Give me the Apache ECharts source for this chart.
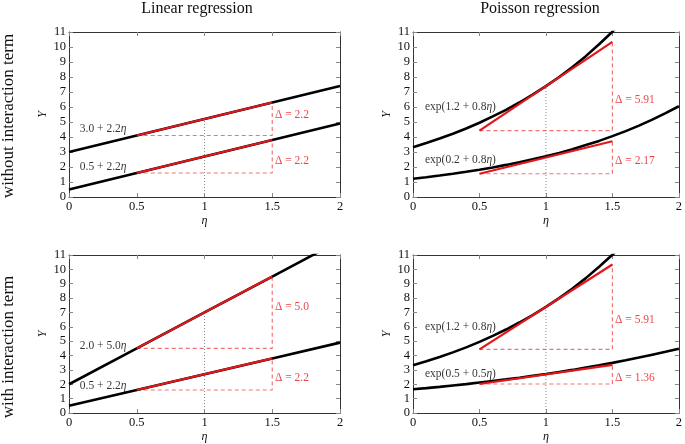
<!DOCTYPE html>
<html><head><meta charset="utf-8">
<script src="https://cdn.jsdelivr.net/npm/echarts@6/dist/echarts.min.js"></script>
<style>html,body{margin:0;padding:0;background:#fff}#c{width:685px;height:444px}</style>
</head><body><div id="c"></div><script>
const FONT = '"Liberation Serif", "DejaVu Serif", serif';
const columnTitles = ['Linear regression', 'Poisson regression'];
const rowTitles = ['without interaction term', 'with interaction term'];

// eta grid for curves
const etaFine = [0,0.1,0.2,0.3,0.4,0.5,0.6,0.7,0.8,0.9,1.0,1.1,1.2,1.3,1.4,1.5,1.6,1.7,1.8,1.9,2.0];
const etaLin = [0, 0.5, 1, 1.5, 2];
const etaTan = [0.5, 1.5];

// Linear regression lines (values at etaLin)
const linA = [3.0, 4.1, 5.2, 6.3, 7.4];      // 3.0 + 2.2 eta
const linB = [0.5, 1.6, 2.7, 3.8, 4.9];      // 0.5 + 2.2 eta
const linC = [2.0, 4.5, 7.0, 9.5, 12.0];     // 2.0 + 5.0 eta

// Poisson curves (values at etaFine)
const poisA = [3.32,3.60,3.90,4.22,4.57,4.95,5.37,5.81,6.30,6.82,7.39,8.00,8.67,9.39,10.18,11.02,11.94,12.94,14.01,15.18,16.44]; // exp(1.2+0.8eta)
const poisB = [1.22,1.32,1.43,1.55,1.68,1.82,1.97,2.14,2.32,2.51,2.72,2.94,3.19,3.46,3.74,4.06,4.39,4.76,5.16,5.59,6.05];       // exp(0.2+0.8eta)
const poisC = [1.65,1.73,1.82,1.92,2.01,2.12,2.23,2.34,2.46,2.59,2.72,2.86,3.00,3.16,3.32,3.49,3.67,3.86,4.06,4.26,4.48];       // exp(0.5+0.5eta)

// Tangent segments at eta=1 (values at etaTan)
const tanA = [4.43, 10.34];
const tanB = [1.55, 3.72];
const tanC = [2.02, 3.35];

// value at eta = 1 of upper curve per panel (dotted guide)
const guideTop = [5.2, 7.39, 7.0, 7.39];

// annotations: [eta, Y, text]
const eqLabels = [
  [[0.08, 4.55, '3.0 + 2.2{i|η}'], [0.08, 2.0, '0.5 + 2.2{i|η}']],
  [[0.09, 6.0, 'exp(1.2 + 0.8{i|η})'], [0.09, 2.47, 'exp(0.2 + 0.8{i|η})']],
  [[0.08, 4.67, '2.0 + 5.0{i|η}'], [0.08, 1.87, '0.5 + 2.2{i|η}']],
  [[0.09, 6.0, 'exp(1.2 + 0.8{i|η})'], [0.09, 2.73, 'exp(0.5 + 0.5{i|η})']]
];
const deltaLabels = [
  [[1.52, 5.45, 'Δ = 2.2'], [1.52, 2.42, 'Δ = 2.2']],
  [[1.52, 6.47, 'Δ = 5.91'], [1.52, 2.42, 'Δ = 2.17']],
  [[1.52, 7.4, 'Δ = 5.0'], [1.52, 2.47, 'Δ = 2.2']],
  [[1.52, 6.5, 'Δ = 5.91'], [1.52, 2.47, 'Δ = 1.36']]
];

const panels = [
  {curves: [[etaLin, linA], [etaLin, linB]], tans: [[etaTan, [linA[1], linA[3]]], [etaTan, [linB[1], linB[3]]]]},
  {curves: [[etaFine, poisA], [etaFine, poisB]], tans: [[etaTan, tanA], [etaTan, tanB]]},
  {curves: [[etaLin, linC], [etaLin, linB]], tans: [[etaTan, [linC[1], linC[3]]], [etaTan, [linB[1], linB[3]]]]},
  {curves: [[etaFine, poisA], [etaFine, poisC]], tans: [[etaTan, tanA], [etaTan, tanC]]}
];

const gridPos = [
  {left: 69, top: 32, width: 271, height: 165},
  {left: 413, top: 32, width: 270, height: 165},
  {left: 69, top: 255, width: 271, height: 165},
  {left: 413, top: 255, width: 270, height: 165}
];

const RED = '#e3161b';
const DASH = 'rgba(235,70,70,0.75)';
const AX = '#333';
const zip = (xs, ys) => xs.map((x, i) => [x, ys[i]]);

const grid = [], xAxis = [], yAxis = [], series = [];
gridPos.forEach((g, i) => {
  grid.push(Object.assign({containLabel: false}, g));
  const common = {
    type: 'value', gridIndex: i,
    axisLine: {show: true, onZero: false, lineStyle: {color: AX, width: 1}},
    axisTick: {show: true, inside: true, length: 4, lineStyle: {color: '#888'}},
    splitLine: {show: false}
  };
  xAxis.push(Object.assign({}, common, {
    min: 0, max: 2, interval: 0.5, position: 'bottom',
    axisLabel: {fontFamily: FONT, fontSize: 12.5, color: '#111', margin: 3},
    name: 'η', nameLocation: 'middle', nameGap: 18,
    nameTextStyle: {fontFamily: FONT, fontSize: 12, fontStyle: 'italic', color: '#111'}
  }));
  xAxis.push(Object.assign({}, common, {
    min: 0, max: 2, interval: 0.5, position: 'top', axisLabel: {show: false}
  }));
  yAxis.push(Object.assign({}, common, {
    min: 0, max: 11, interval: 1, position: 'left',
    axisLabel: {fontFamily: FONT, fontSize: 12.5, color: '#111', margin: 3},
    name: 'Y', nameLocation: 'middle', nameGap: 20,
    nameTextStyle: {fontFamily: FONT, fontSize: 12, fontStyle: 'italic', color: '#111'}
  }));
  yAxis.push(Object.assign({}, common, {
    min: 0, max: 11, interval: 1, position: 'right', axisLabel: {show: false}
  }));

  const xi = 2 * i, yi = 2 * i;
  const p = panels[i];
  p.curves.forEach(c => series.push({
    type: 'line', xAxisIndex: xi, yAxisIndex: yi, data: zip(c[0], c[1]),
    showSymbol: false, symbol: 'none', clip: true, smooth: false,
    lineStyle: {color: '#000', width: 2.6}, silent: true, z: 2
  }));
  p.tans.forEach(t => {
    series.push({
      type: 'line', xAxisIndex: xi, yAxisIndex: yi, data: zip(t[0], t[1]),
      symbol: 'none', clip: true, lineStyle: {color: RED, width: 2.2}, z: 3
    });
    series.push({
      type: 'line', xAxisIndex: xi, yAxisIndex: yi,
      data: [[t[0][0], t[1][0]], [t[0][1], t[1][0]], [t[0][1], t[1][1]]],
      symbol: 'none', clip: true, lineStyle: {color: DASH, width: 1.2, type: [4, 3]}, z: 1
    });
  });
  series.push({
    type: 'line', xAxisIndex: xi, yAxisIndex: yi, data: [[1, 0], [1, guideTop[i]]],
    symbol: 'none', lineStyle: {color: '#888', width: 1, type: [1, 2]}, z: 1
  });
  const lbl = (arr, color) => ({
    type: 'scatter', xAxisIndex: xi, yAxisIndex: yi, symbolSize: 0,
    data: arr.map(a => ({value: [a[0], a[1]], txt: a[2]})),
    label: {
      show: true, position: 'right', distance: 0,
      formatter: pr => pr.data.txt,
      fontFamily: FONT, fontSize: 11.5, color: color, textBorderWidth: 0,
      rich: {i: {fontFamily: FONT, fontSize: 11.5, fontStyle: 'italic', color: color}}
    }, z: 5, silent: true
  });
  series.push(lbl(eqLabels[i], '#000'));
  series.push(lbl(deltaLabels[i], RED));
});

const chart = echarts.init(document.getElementById('c'), null, {renderer: 'canvas'});
chart.setOption({
  animation: false,
  backgroundColor: '#fff',
  title: [
    {text: columnTitles[0], left: 192, top: -4, textAlign: 'center', textStyle: {fontFamily: FONT, fontSize: 16, fontWeight: 'normal', color: '#111'}},
    {text: columnTitles[1], left: 535, top: -4, textAlign: 'center', textStyle: {fontFamily: FONT, fontSize: 16, fontWeight: 'normal', color: '#111'}}
  ],
  graphic: [
    {type: 'text', x: 0, y: 116, rotation: Math.PI / 2, style: {text: rowTitles[0], font: '17px ' + FONT, fill: '#111', textAlign: 'center', textVerticalAlign: 'top'}},
    {type: 'text', x: 0, y: 347, rotation: Math.PI / 2, style: {text: rowTitles[1], font: '17px ' + FONT, fill: '#111', textAlign: 'center', textVerticalAlign: 'top'}}
  ],
  grid, xAxis, yAxis, series
});
</script></body></html>
